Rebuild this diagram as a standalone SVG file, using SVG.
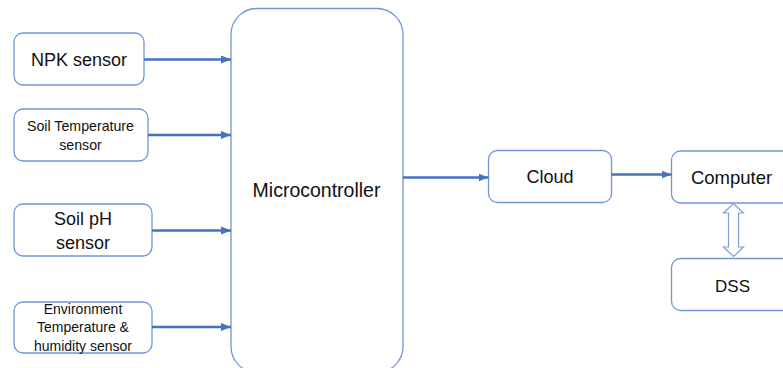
<svg xmlns="http://www.w3.org/2000/svg" width="783" height="368" viewBox="0 0 783 368">
  <style>
    .box { fill: #ffffff; stroke: #6f96d8; stroke-width: 1.3; }
    .lbl { font-family: "Liberation Sans", Arial, sans-serif; fill: #111111; text-anchor: middle; }
    .link { stroke: #4472c4; stroke-width: 2.5; fill: none; }
    .dbl { fill: #ffffff; stroke: #7d9fdb; stroke-width: 1.2; }
  </style>
  <defs>
    <marker id="arrow" markerUnits="userSpaceOnUse" markerWidth="11" markerHeight="10" refX="10" refY="5" orient="auto">
      <path d="M0,1 L10,5 L0,9 Z" fill="#4472c4"/>
    </marker>
  </defs>
  <rect width="783" height="368" fill="#ffffff"/>

  <g id="npk">
    <rect class="box" x="14" y="33" width="130" height="52" rx="9"/>
    <text class="lbl" x="79" y="65.5" font-size="18">NPK sensor</text>
  </g>
  <g id="soil-temp">
    <rect class="box" x="14" y="109" width="134" height="52" rx="9"/>
    <text class="lbl" x="80.5" y="131" font-size="14.2">Soil Temperature</text>
    <text class="lbl" x="80.5" y="150" font-size="14.2">sensor</text>
  </g>
  <g id="soil-ph">
    <rect class="box" x="14" y="204" width="138" height="52" rx="9"/>
    <text class="lbl" x="83" y="225" font-size="18">Soil pH</text>
    <text class="lbl" x="83" y="249" font-size="18">sensor</text>
  </g>
  <g id="env">
    <rect class="box" x="14" y="302" width="138" height="51" rx="9"/>
    <text class="lbl" x="83" y="313.5" font-size="14">Environment</text>
    <text class="lbl" x="83" y="332" font-size="14">Temperature &amp;</text>
    <text class="lbl" x="83" y="350.5" font-size="14">humidity sensor</text>
  </g>
  <g id="microcontroller">
    <rect class="box" x="231" y="8.5" width="172" height="364" rx="26"/>
    <text class="lbl" x="316.5" y="197" font-size="19.5">Microcontroller</text>
  </g>
  <g id="cloud">
    <rect class="box" x="488.5" y="150.5" width="123" height="52" rx="9"/>
    <text class="lbl" x="550" y="182.5" font-size="18">Cloud</text>
  </g>
  <g id="computer">
    <rect class="box" x="671.5" y="151" width="130" height="52" rx="9"/>
    <text class="lbl" x="731.5" y="183.5" font-size="18.5">Computer</text>
  </g>
  <g id="dss">
    <rect class="box" x="671.5" y="258.5" width="130" height="52" rx="9"/>
    <text class="lbl" x="732.5" y="292" font-size="17">DSS</text>
  </g>

  <g id="connectors">
    <line class="link" x1="144" y1="59.5" x2="231" y2="59.5" marker-end="url(#arrow)"/>
    <line class="link" x1="148" y1="135" x2="231" y2="135" marker-end="url(#arrow)"/>
    <line class="link" x1="152" y1="230.5" x2="231" y2="230.5" marker-end="url(#arrow)"/>
    <line class="link" x1="152" y1="327" x2="231" y2="327" marker-end="url(#arrow)"/>
    <line class="link" x1="403" y1="177.5" x2="488.5" y2="177.5" marker-end="url(#arrow)"/>
    <line class="link" x1="611.5" y1="174.5" x2="671.5" y2="174.5" marker-end="url(#arrow)"/>
    <path class="dbl" d="M733.5,203.5 L743.5,213 L738.5,213 L738.5,247 L743.5,247 L733.5,256.5 L723.5,247 L728.5,247 L728.5,213 L723.5,213 Z"/>
  </g>
</svg>
